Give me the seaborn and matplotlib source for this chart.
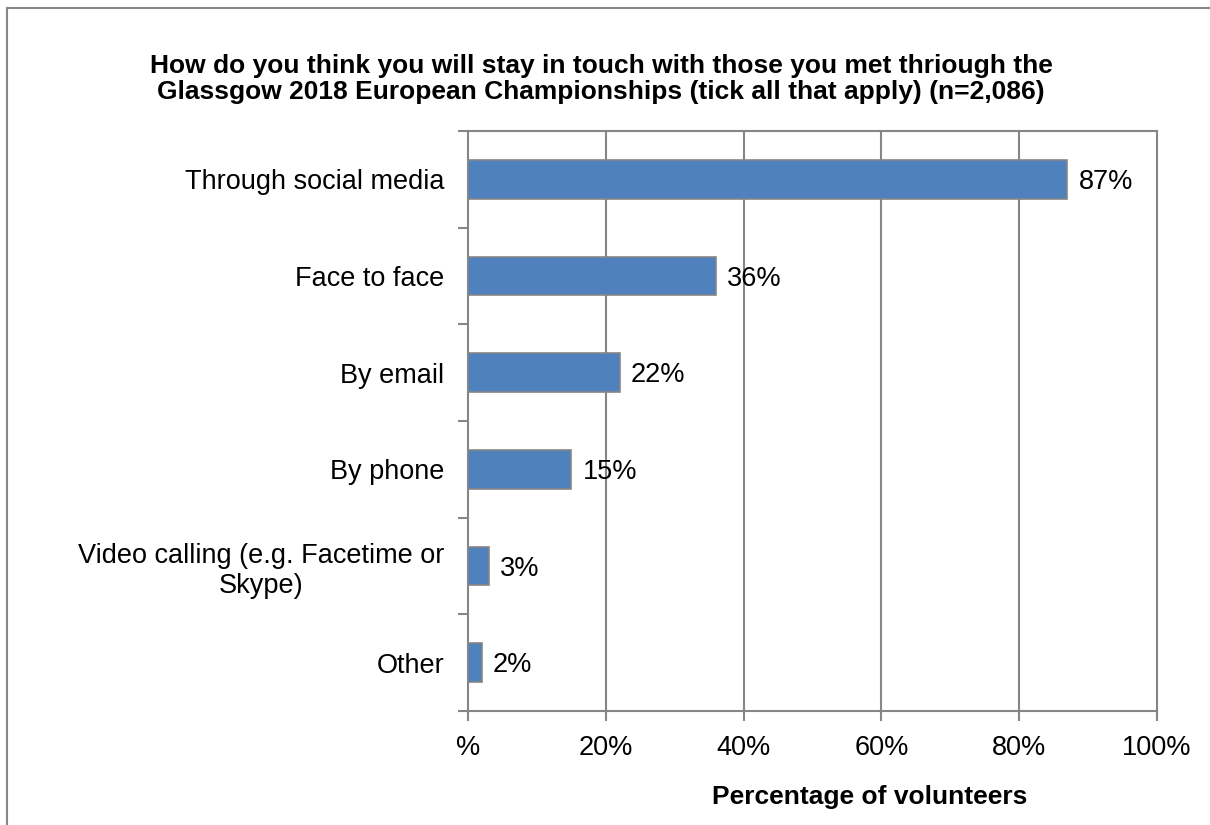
import matplotlib
matplotlib.use("Agg")
import matplotlib.pyplot as plt
from matplotlib.lines import Line2D
import seaborn as sns
import pandas as pd

categories = [
    "Through social media",
    "Face to face",
    "By email",
    "By phone",
    "Video calling (e.g. Facetime or\nSkype)",
    "Other",
]
values = [87, 36, 22, 15, 3, 2]
x_ticks = [0, 20, 40, 60, 80, 100]
x_tick_labels = ["%", "20%", "40%", "60%", "80%", "100%"]
title = ("How do you think you will stay in touch with those you met thriough the\n"
         "Glassgow 2018 European Championships (tick all that apply) (n=2,086)")
x_label = "Percentage of volunteers"

sns.set_theme(style="white")
plt.rcParams["font.family"] = ["Liberation Sans", "DejaVu Sans"]
plt.rcParams["text.color"] = "black"
plt.rcParams["xtick.color"] = "black"
plt.rcParams["ytick.color"] = "black"

BAR = "#4F81BD"
GREY = "#868686"
FS = 19.5

df = pd.DataFrame({"category": categories, "value": values})

fig = plt.figure(figsize=(12.10, 8.25), dpi=100)
ax = fig.add_axes([468 / 1210, 1 - 711 / 825, (1157 - 468) / 1210, (711 - 131) / 825])

sns.barplot(data=df, x="value", y="category", orient="h", color=BAR,
            saturation=1, width=0.4, edgecolor=GREY, linewidth=1.2, ax=ax, zorder=3)

ax.set_xlim(0, 100)
ax.set_ylim(len(categories) - 0.5, -0.5)

# vertical gridlines
for t in x_ticks[1:-1]:
    ax.axvline(t, color=GREY, lw=1.5, zorder=1)

for spine in ax.spines.values():
    spine.set_color(GREY)
    spine.set_linewidth(1.5)
    spine.set_visible(True)

ax.set_xticks(x_ticks)
ax.set_xticklabels(x_tick_labels, fontsize=FS, color="black")
ax.tick_params(axis="x", direction="out", length=7, width=1.5, color=GREY,
               pad=10, bottom=True)

ax.set_yticks(range(len(categories)))
ax.set_yticklabels(categories, fontsize=FS, ha="right", multialignment="center",
                   color="black")
ax.tick_params(axis="y", which="major", length=0, pad=17)
ax.set_yticks([i - 0.5 for i in range(len(categories) + 1)], minor=True)
ax.tick_params(axis="y", which="minor", direction="out", length=7, width=1.5,
               color=GREY, left=True)

ax.set_xlabel("")
ax.set_ylabel("")

for i, v in enumerate(values):
    ax.annotate(f"{v}%", xy=(v, i), xytext=(8, -2), textcoords="offset points",
                ha="left", va="center", fontsize=FS, color="black")

fig.text(601 / 1210, 1 - 79 / 825, title, ha="center", va="center",
         fontsize=19, fontweight="bold", linespacing=1.1, color="black")
fig.text(870 / 1210, 1 - 797 / 825, x_label, ha="center", va="center",
         fontsize=19, fontweight="bold", color="black")

# chart frame
fig.add_artist(Line2D([7 / 1210, 1.0], [1 - 8 / 825, 1 - 8 / 825],
                      transform=fig.transFigure, color=GREY, lw=1.5))
fig.add_artist(Line2D([7 / 1210, 7 / 1210], [0.0, 1 - 8 / 825],
                      transform=fig.transFigure, color=GREY, lw=1.5))

fig.savefig("out.png", dpi=100)
